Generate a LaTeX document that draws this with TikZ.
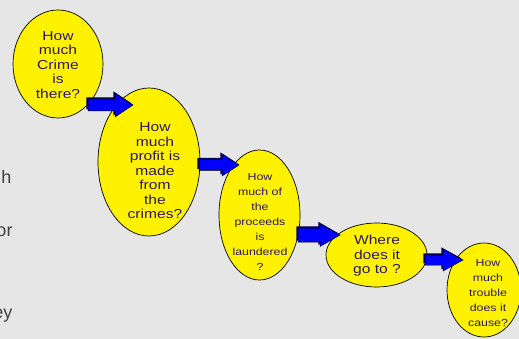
\documentclass[tikz,border=0pt]{standalone}
\usepackage{fontspec}
\setmainfont[FakeStretch=1.2]{Liberation Sans}
\newfontfamily\leftfont{Liberation Sans}
\usetikzlibrary{shapes.geometric}
\definecolor{bg}{RGB}{230,230,230}
\definecolor{qtxt}{RGB}{45,20,110}
\definecolor{arrowblue}{RGB}{0,0,255}
\definecolor{arrowdark}{RGB}{0,0,80}
\definecolor{lefttxt}{RGB}{64,64,64}
\newcommand\barrowpath[6]{(#1,{#4-#5}) -- (#2,{#4-#5}) -- (#2,{#4-#6}) -- (#3,#4) -- (#2,{#4+#6}) -- (#2,{#4+#5}) -- (#1,{#4+#5}) -- cycle}
\newcommand\blockarrow[6]{%
  \fill[arrowdark,shift={(-1.6,-1.6)}] \barrowpath{#1}{#2}{#3}{#4}{#5}{#6};
  \draw[fill=arrowblue,draw=black,line width=0.5pt,line join=miter] \barrowpath{#1}{#2}{#3}{#4}{#5}{#6};}
\begin{document}
\begin{tikzpicture}[x=1pt,y=-1pt,
  bubble/.style={ellipse,draw=black,line width=0.7pt,fill=yellow,inner sep=0pt,outer sep=0pt},
  qbig/.style={text=qtxt,align=center,font=\fontsize{13}{14.5}\selectfont,inner sep=0pt},
  qsmall/.style={text=qtxt,align=center,font=\fontsize{10.3}{15}\selectfont,inner sep=0pt},
  lefttext/.style={text=lefttxt,font=\leftfont\fontsize{18}{22}\selectfont,inner sep=0pt,anchor=base east}]
\clip (0,0) rectangle (519,339);
\fill[bg] (0,0) rectangle (519,339);
% left partial text
\node[lefttext] (l1) at (11.5,183) {h};
\node[lefttext] (l2) at (12.7,236) {or};
\node[lefttext] (l3) at (12.7,318) {ey};
% ellipses
\node[bubble,minimum width=90pt,minimum height=108pt] (e1) at (58,64) {};
\node[bubble,minimum width=102pt,minimum height=148pt] (e2) at (149,162) {};
\node[bubble,minimum width=81pt,minimum height=130pt] (e3) at (259.5,215) {};
\node[bubble,minimum width=101pt,minimum height=64pt] (e4) at (376.5,255) {};
\node[bubble,minimum width=74pt,minimum height=94pt] (e5) at (484,290) {};
% texts
\node[qbig] (t1) at (58,65) {How\\much\\Crime\\is\\there?};
\node[qbig] (t2) at (155,171) {How\\much\\profit is\\made\\from\\the\\crimes?};
\node[qsmall] (t3) at (260,221.5) {How\\much of\\the\\proceeds\\is\\laundered\\?};
\node[qbig] (t4) at (377,256) {Where\\does it\\go to ?};
\node[qsmall] (t5) at (488,293) {How\\much\\trouble\\does it\\cause?};
% block arrows
\blockarrow{88}{115}{133}{105}{6}{12}
\blockarrow{199}{222}{239}{165}{5.5}{11}
\blockarrow{298}{320}{340}{235}{7}{11.5}
\blockarrow{425}{443}{463}{260}{5}{11}
\end{tikzpicture}
\end{document}
